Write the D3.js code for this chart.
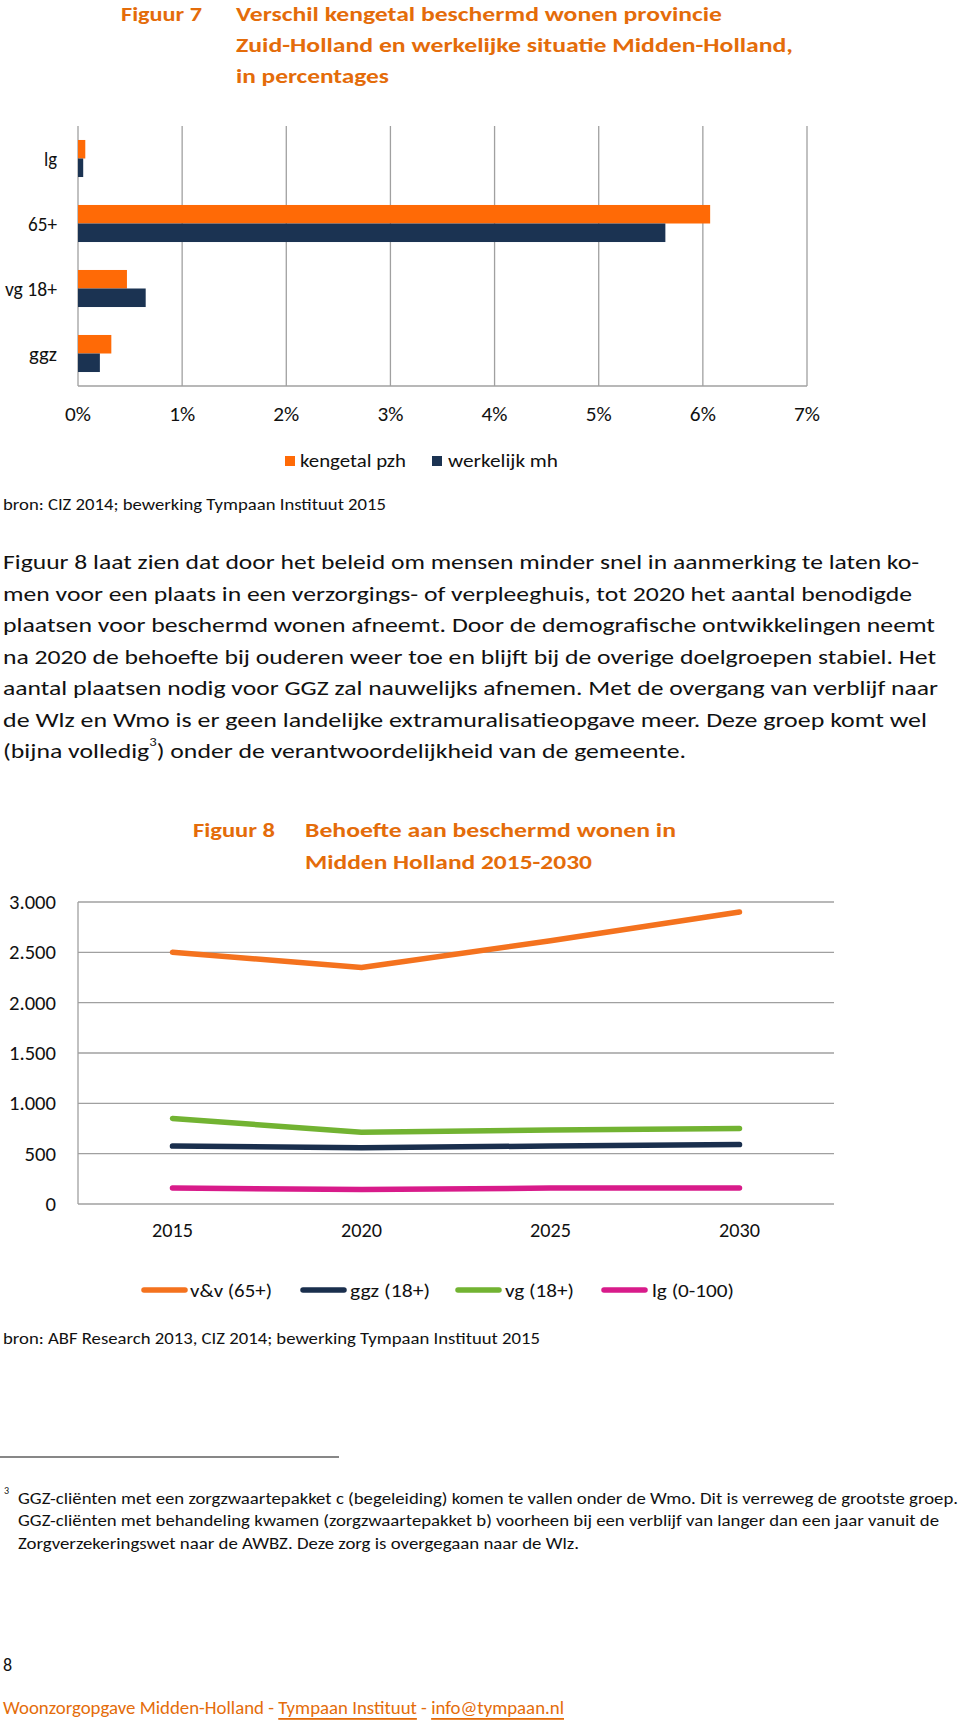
<!DOCTYPE html>
<html>
<head>
<meta charset="utf-8">
<script src="https://cdn.jsdelivr.net/npm/d3@7"></script>
<style>
  html, body { margin: 0; padding: 0; background: #fff; }
  svg { display: block; }
  text { font-family: Carlito, Lato, "Liberation Sans", sans-serif; }
</style>
</head>
<body>
<svg id="page" width="960" height="1723"></svg>
<script>
// ---------- DATA ----------
const barCategories = ["lg", "65+", "vg 18+", "ggz"];
const kengetalPzh = [0.07, 6.07, 0.47, 0.32];
const werkelijkMh = [0.05, 5.64, 0.65, 0.21];
const barSeriesNames = ["kengetal pzh", "werkelijk mh"];
const pctTicks = [0, 1, 2, 3, 4, 5, 6, 7];

const years = ["2015", "2020", "2025", "2030"];
const vv65 = [2500, 2350, 2615, 2900];
const ggz18 = [575, 560, 576, 590];
const vg18 = [850, 712, 735, 750];
const lg0100 = [160, 143, 158, 160];
const lineSeriesNames = ["v&v (65+)", "ggz (18+)", "vg (18+)", "lg (0-100)"];
const countTicks = [0, 500, 1000, 1500, 2000, 2500, 3000];

// ---------- STYLE ----------
const C = {
  title: "#E46C0A", barOrange: "#FF6A06", navy: "#1B3352",
  lOrange: "#F4721E", lNavy: "#1A2F4D", lGreen: "#72B332", lPink: "#D81B8A",
  grid: "#A0A0A0", text: "#111"
};

const svg = d3.select("#page");

function txt(x, y, s, opts = {}) {
  const t = svg.append("text")
    .attr("x", x).attr("y", y)
    .attr("font-size", opts.size || 17)
    .attr("fill", opts.fill || C.text)
    .attr("font-weight", opts.weight || "normal")
    .attr("text-anchor", opts.anchor || "start")
    .attr("dominant-baseline", "central")
    .text(s);
  if (opts.width) t.attr("textLength", opts.width).attr("lengthAdjust", "spacingAndGlyphs");
  return t;
}
// approximate label width of the reference's axis font (Calibri-like, ~20px)
function labelWidth(s) {
  let w = 0;
  for (const ch of s) {
    if (/[0-9]/.test(ch)) w += 10.5;
    else if (ch === "%") w += 15.5;
    else if (ch === "." ) w += 5;
    else w += 9;
  }
  return w;
}

// ---------- FIGUUR 7 TITLE ----------
txt(121, 14, "Figuur 7", { size: 21, weight: "bold", fill: C.title, width: 81 });
txt(236, 14, "Verschil kengetal beschermd wonen provincie", { size: 21, weight: "bold", fill: C.title, width: 486 });
txt(236, 45, "Zuid-Holland en werkelijke situatie Midden-Holland,", { size: 21, weight: "bold", fill: C.title, width: 557 });
txt(236, 76, "in percentages", { size: 21, weight: "bold", fill: C.title, width: 153 });

// ---------- BAR CHART ----------
const bx = d3.scaleLinear().domain([0, 7]).range([78, 807]);
const by = d3.scaleBand().domain(barCategories).range([126, 386]).paddingInner(0.43).paddingOuter(0.215);
const bsub = d3.scaleBand().domain(barSeriesNames).range([0, by.bandwidth()]);

const gBar = svg.append("g");
gBar.selectAll("line.grid").data(pctTicks).join("line")
  .attr("x1", d => bx(d)).attr("x2", d => bx(d))
  .attr("y1", 126).attr("y2", 386)
  .attr("stroke", C.grid).attr("stroke-width", 1.3);
gBar.append("line").attr("x1", bx(0)).attr("x2", bx(7)).attr("y1", 386).attr("y2", 386)
  .attr("stroke", C.grid).attr("stroke-width", 1.3);

const barRows = barCategories.map((c, i) => ({ c, vals: [kengetalPzh[i], werkelijkMh[i]] }));
const barColors = [C.barOrange, C.navy];
barRows.forEach(r => {
  r.vals.forEach((v, j) => {
    gBar.append("rect")
      .attr("x", bx(0)).attr("y", by(r.c) + bsub(barSeriesNames[j]))
      .attr("width", bx(v) - bx(0)).attr("height", bsub.bandwidth())
      .attr("fill", barColors[j]);
  });
});
const catWidths = { "lg": 13, "65+": 29, "vg 18+": 52, "ggz": 28 };
barCategories.forEach(c => txt(57, by(c) + by.bandwidth() / 2, c, { anchor: "end", size: 19.5, width: catWidths[c] }));
pctTicks.forEach(t => txt(bx(t), 414, t + "%", { anchor: "middle", size: 19.5, width: labelWidth(t + "%") }));

// legend
[[285, 300, 106], [432, 448, 110]].forEach(([sx, tx, w], j) => {
  svg.append("rect").attr("x", sx).attr("y", 456).attr("width", 10).attr("height", 10).attr("fill", barColors[j]);
  txt(tx, 461, barSeriesNames[j], { size: 18, width: w });
});

txt(3, 504, "bron: CIZ 2014; bewerking Tympaan Instituut 2015", { size: 17, width: 383 });

// ---------- PARAGRAPH ----------
const para = [
  ["Figuur 8 laat zien dat door het beleid om mensen minder snel in aanmerking te laten ko-", 916],
  ["men voor een plaats in een verzorgings- of verpleeghuis, tot 2020 het aantal benodigde", 909],
  ["plaatsen voor beschermd wonen afneemt. Door de demografische ontwikkelingen neemt", 932],
  ["na 2020 de behoefte bij ouderen weer toe en blijft bij de overige doelgroepen stabiel. Het", 933],
  ["aantal plaatsen nodig voor GGZ zal nauwelijks afnemen. Met de overgang van verblijf naar", 935],
  ["de Wlz en Wmo is er geen landelijke extramuralisatieopgave meer. Deze groep komt wel", 924]
];
para.forEach(([s, w], i) => txt(3, 562 + i * 31.5, s, { size: 21, width: w }));
{
  const t = svg.append("text").attr("x", 3).attr("y", 562 + 6 * 31.5)
    .attr("font-size", 21).attr("fill", C.text).attr("dominant-baseline", "central")
    .attr("textLength", 683).attr("lengthAdjust", "spacingAndGlyphs");
  t.append("tspan").text("(bijna volledig");
  t.append("tspan").attr("font-size", 12).attr("dy", -9).text("3");
  t.append("tspan").attr("dy", 9).text(") onder de verantwoordelijkheid van de gemeente.");
}

// ---------- FIGUUR 8 TITLE ----------
txt(193, 830, "Figuur 8", { size: 21, weight: "bold", fill: C.title, width: 82 });
txt(305, 830, "Behoefte aan beschermd wonen in", { size: 21, weight: "bold", fill: C.title, width: 371 });
txt(305, 862, "Midden Holland 2015-2030", { size: 21, weight: "bold", fill: C.title, width: 287 });

// ---------- LINE CHART ----------
const lx = d3.scalePoint().domain(years).range([78, 834]).padding(0.5);
const ly = d3.scaleLinear().domain([0, 3000]).range([1204, 902]);
const nl = d3.formatLocale({ decimal: ",", thousands: ".", grouping: [3], currency: ["€", ""] });
const fmt = nl.format(",");

const gLine = svg.append("g");
gLine.selectAll("line.h").data(countTicks).join("line")
  .attr("x1", 78).attr("x2", 834)
  .attr("y1", d => ly(d)).attr("y2", d => ly(d))
  .attr("stroke", C.grid).attr("stroke-width", 1.3);
gLine.append("line").attr("x1", 78).attr("x2", 78).attr("y1", ly(3000)).attr("y2", ly(0))
  .attr("stroke", C.grid).attr("stroke-width", 1.3);

countTicks.forEach(t => txt(56, ly(t), fmt(t), { anchor: "end", size: 19.5, width: labelWidth(fmt(t)) }));
years.forEach(y => txt(lx(y), 1230, y, { anchor: "middle", size: 19.5, width: labelWidth(y) - 1 }));

const lineSeries = [vv65, ggz18, vg18, lg0100];
const lineColors = [C.lOrange, C.lNavy, C.lGreen, C.lPink];
const lineGen = d3.line().x((d, i) => lx(years[i])).y(d => ly(d));
[3, 1, 2, 0].forEach(k => {
  gLine.append("path").attr("d", lineGen(lineSeries[k]))
    .attr("fill", "none").attr("stroke", lineColors[k]).attr("stroke-width", 5.5)
    .attr("stroke-linecap", "round").attr("stroke-linejoin", "round");
});

// legend
const leg2 = [[142, 190, 82], [301, 350, 80], [456, 505, 69], [602, 652, 82]];
leg2.forEach(([lx0, tx, w], k) => {
  svg.append("line").attr("x1", lx0 + 2).attr("x2", lx0 + 43).attr("y1", 1290).attr("y2", 1290)
    .attr("stroke", lineColors[k]).attr("stroke-width", 5.5).attr("stroke-linecap", "round");
  txt(tx, 1290, lineSeriesNames[k], { size: 19, width: w });
});

txt(3, 1338, "bron: ABF Research 2013, CIZ 2014; bewerking Tympaan Instituut 2015", { size: 17, width: 537 });

// ---------- FOOTNOTE ----------
svg.append("line").attr("x1", 0).attr("x2", 339).attr("y1", 1457).attr("y2", 1457)
  .attr("stroke", "#111").attr("stroke-width", 1.2);
txt(4, 1490, "3", { size: 10 });
txt(18, 1498, "GGZ-cliënten met een zorgzwaartepakket c (begeleiding) komen te vallen onder de Wmo. Dit is verreweg de grootste groep.", { size: 16, width: 940 });
txt(18, 1520, "GGZ-cliënten met behandeling kwamen (zorgzwaartepakket b) voorheen bij een verblijf van langer dan een jaar vanuit de", { size: 16, width: 921 });
txt(18, 1543, "Zorgverzekeringswet naar de AWBZ. Deze zorg is overgegaan naar de Wlz.", { size: 16, width: 561 });

// ---------- PAGE FOOTER ----------
txt(3, 1665, "8", { size: 18 });
{
  const t = svg.append("text").attr("x", 3).attr("y", 1708)
    .attr("font-size", 18).attr("fill", C.title).attr("dominant-baseline", "central")
    .attr("textLength", 561).attr("lengthAdjust", "spacingAndGlyphs");
  t.append("tspan").text("Woonzorgopgave Midden-Holland - ");
  t.append("tspan").attr("text-decoration", "underline").text("Tympaan Instituut");
  t.append("tspan").text(" - ");
  t.append("tspan").attr("text-decoration", "underline").text("info@tympaan.nl");
}
</script>
</body>
</html>
